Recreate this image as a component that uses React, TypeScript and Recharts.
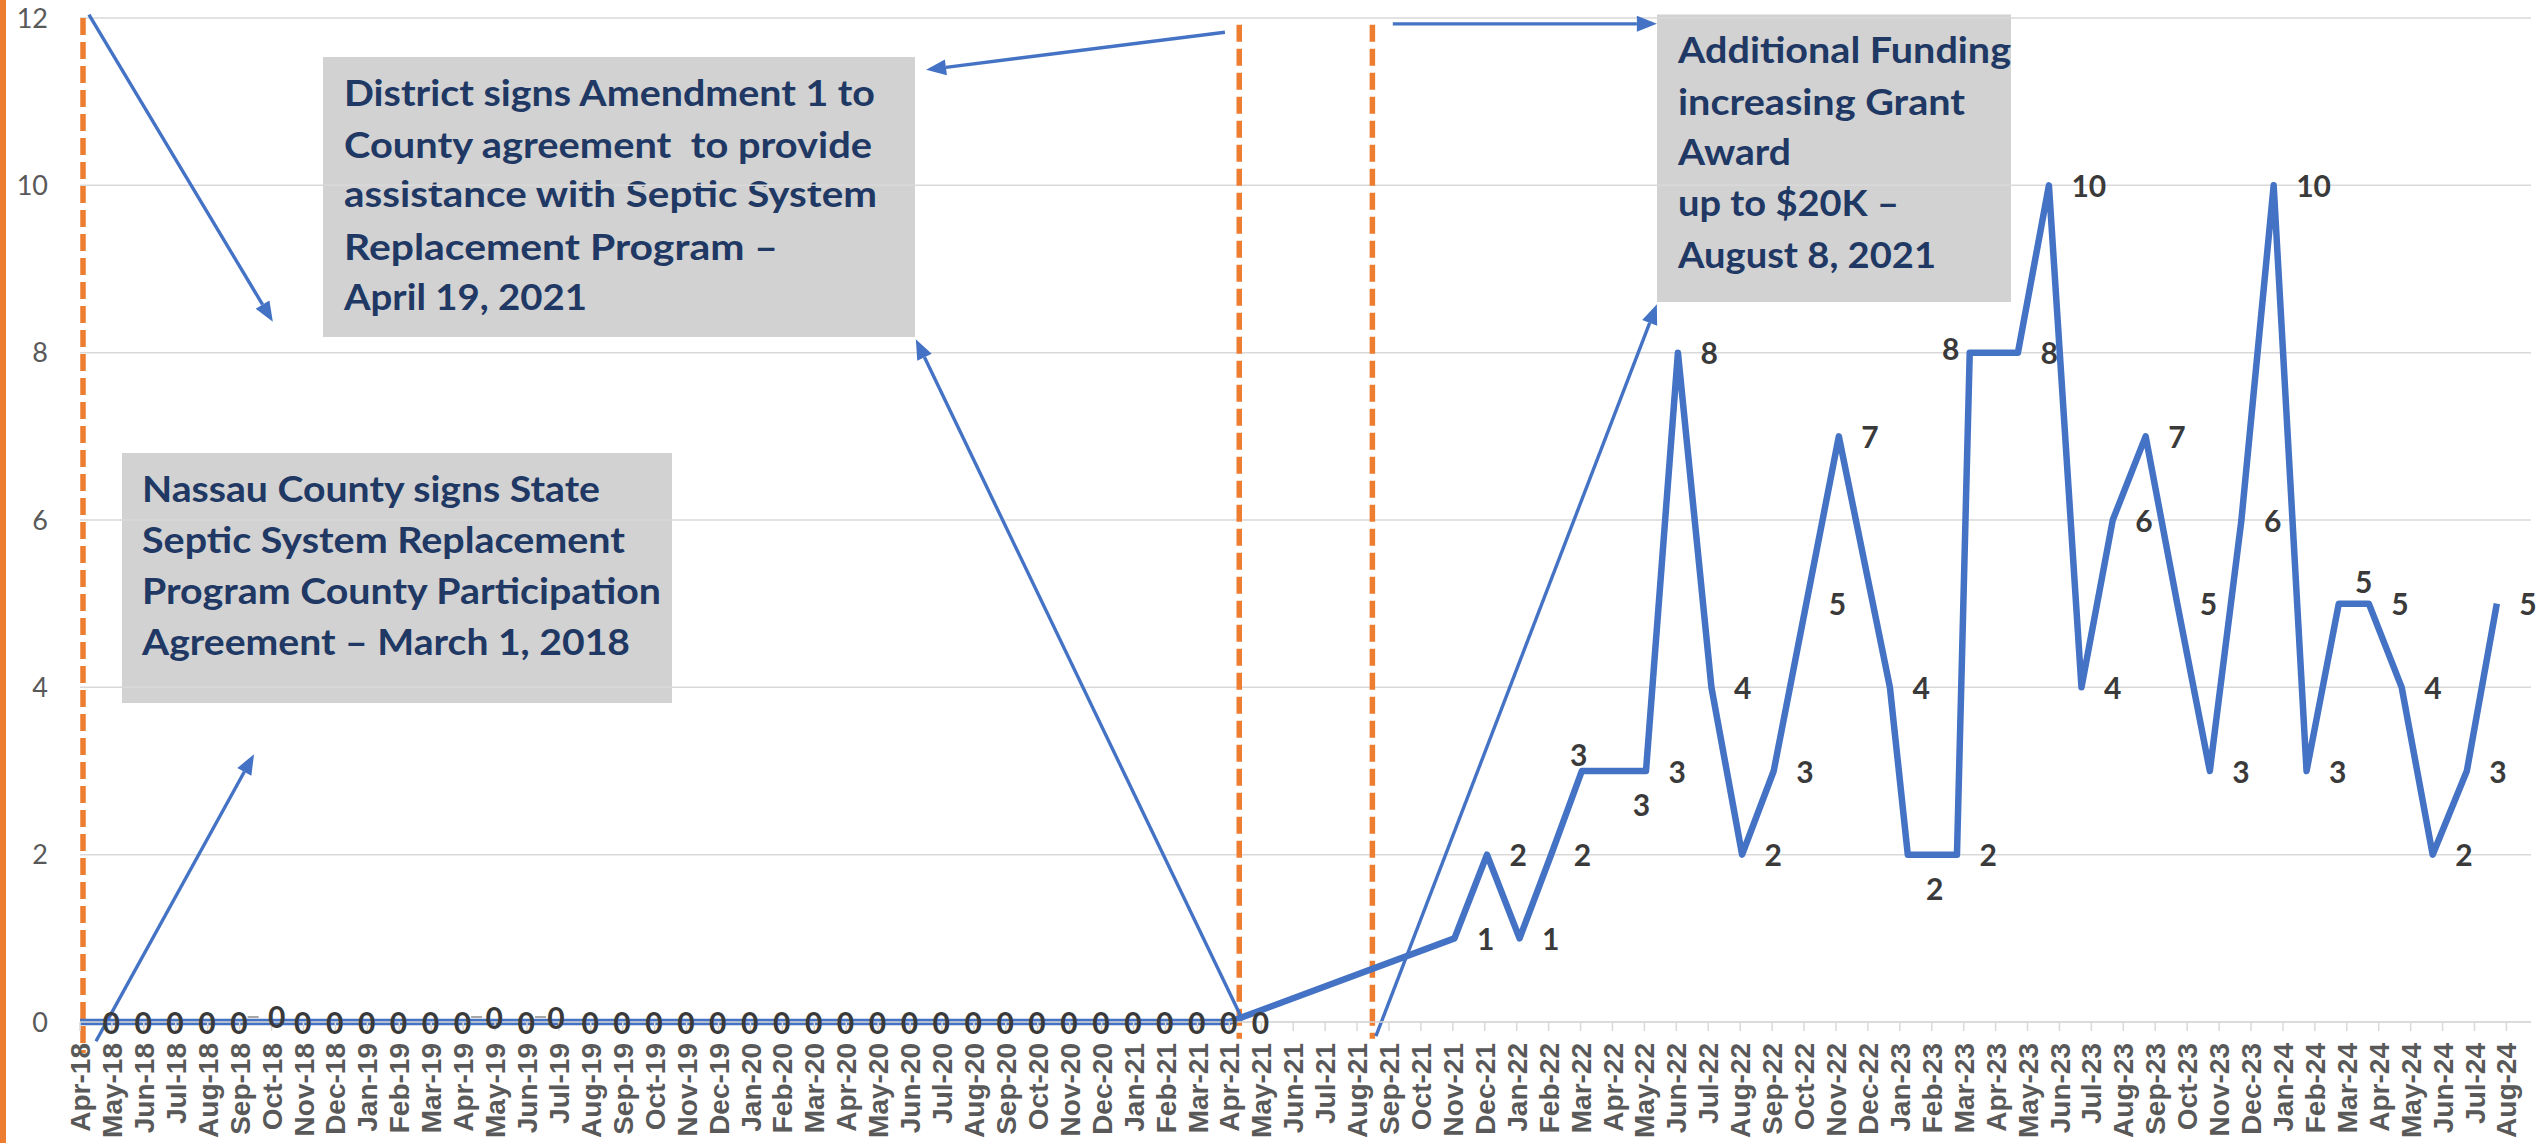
import React from 'react';
import { LineChart, Line, XAxis, YAxis, CartesianGrid, ReferenceLine, LabelList } from 'recharts';

// ---------- data ----------
const monthLabels = [
  'Apr-18', 'May-18', 'Jun-18', 'Jul-18', 'Aug-18', 'Sep-18', 'Oct-18', 'Nov-18', 'Dec-18',
  'Jan-19', 'Feb-19', 'Mar-19', 'Apr-19', 'May-19', 'Jun-19', 'Jul-19', 'Aug-19', 'Sep-19', 'Oct-19', 'Nov-19', 'Dec-19',
  'Jan-20', 'Feb-20', 'Mar-20', 'Apr-20', 'May-20', 'Jun-20', 'Jul-20', 'Aug-20', 'Sep-20', 'Oct-20', 'Nov-20', 'Dec-20',
  'Jan-21', 'Feb-21', 'Mar-21', 'Apr-21', 'May-21', 'Jun-21', 'Jul-21', 'Aug-21', 'Sep-21', 'Oct-21', 'Nov-21', 'Dec-21',
  'Jan-22', 'Feb-22', 'Mar-22', 'Apr-22', 'May-22', 'Jun-22', 'Jul-22', 'Aug-22', 'Sep-22', 'Oct-22', 'Nov-22', 'Dec-22',
  'Jan-23', 'Feb-23', 'Mar-23', 'Apr-23', 'May-23', 'Jun-23', 'Jul-23', 'Aug-23', 'Sep-23', 'Oct-23', 'Nov-23', 'Dec-23',
  'Jan-24', 'Feb-24', 'Mar-24', 'Apr-24', 'May-24', 'Jun-24', 'Jul-24', 'Aug-24',
];

// position of each reading on the month axis (0 = Apr-18)
const pointMonth = [
  0, 1, 2, 3, 4, 5, 6, 7, 8, 9, 10, 11, 12, 13, 14, 15, 16, 17, 18, 19,
  20, 21, 22, 23, 24, 25, 26, 27, 28, 29, 30, 31, 32, 33, 34, 35, 36,
  43.05, 44.07, 45.09, 46.08, 47.04, 48.06, 49.05, 50.05, 51.1, 52.06, 53.05, 54.07, 55.09,
  56.69, 57.25, 58.79, 59.19, 60.7, 61.67, 62.69, 63.67, 64.7, 65.69, 66.71, 67.7, 68.71,
  69.74, 70.75, 71.69, 72.72, 73.69, 74.76, 75.7,
];

const pointCount = [
  0, 0, 0, 0, 0, 0, 0, 0, 0, 0, 0, 0, 0, 0, 0, 0, 0, 0, 0, 0,
  0, 0, 0, 0, 0, 0, 0, 0, 0, 0, 0, 0, 0, 0, 0, 0, 0,
  1, 2, 1, 2, 3, 3, 3, 8, 4, 2, 3, 5, 7,
  4, 2, 2, 8, 8, 10, 4, 6, 7, 5, 3, 6, 10,
  3, 5, 5, 4, 2, 3, 5,
];

const yTicks = [0, 2, 4, 6, 8, 10, 12];

// milestone dates on the month axis: Mar 1 2018, Apr 19 2021, Aug 8 2021
const milestoneMonth = [0.094, 36.31, 40.48];
const milestoneTop = [12, 11.92, 11.92];
const milestoneBottom = [-0.37, -0.2, -0.2];

// annotation connectors (month axis, count axis)
const connectorFrom = [[0.28, 12.04], [0.5, -0.23], [35.86, 11.83], [36.42, 0.02], [41.12, 11.93], [40.59, -0.17]];
const connectorTo = [[6.04, 8.37], [5.45, 3.2], [26.5, 11.38], [26.18, 8.16], [49.39, 11.93], [49.39, 8.58]];

const noteTexts = [
  ['District signs Amendment 1 to', 'County agreement  to provide', 'assistance with Septic System', 'Replacement Program \u2013', 'April 19, 2021'],
  ['Nassau County signs State', 'Septic System Replacement', 'Program County Participation', 'Agreement \u2013 March 1, 2018'],
  ['Additional Funding', 'increasing Grant', 'Award', 'up to $20K \u2013', 'August 8, 2021'],
];

const chartData = pointMonth.map((m, i) => ({ m, count: pointCount[i] }));
const monthTicks = monthLabels.map((_, i) => i);

// ---------- layout / style ----------
const W = 2539;
const H = 1143;
const BLUE = '#4472C4';
const ORANGE = '#ED7D31';
const GRID = '#D9D9D9';
const NAVY = '#1F3864';

const noteBoxes = [
  { x: 323, y: 57, w: 592, h: 280, tx: 344, base: [106, 157.5, 207, 260, 310], len: [531, 528, 533, 434, 243] },
  { x: 122, y: 453, w: 550, h: 250, tx: 142, base: [501.5, 553, 604, 655], len: [458, 483, 519, 488] },
  { x: 1657, y: 14.5, w: 354, h: 287.5, tx: 1678, base: [63, 115, 165, 216, 268], len: [333, 287, 113, 221, 258] },
];

const labelSpecial: Record<number, { dx: number; dy: number; leader?: boolean }> = {
  5: { dx: 37, dy: -5, leader: true },
  12: { dx: 31, dy: -4, leader: true },
  14: { dx: 29, dy: -4, leader: true },
  41: { dx: -3, dy: -16 },
  42: { dx: 27, dy: 34 },
  51: { dx: 27, dy: 35 },
  53: { dx: -19, dy: -3 },
  64: { dx: 25, dy: -21 },
};

const DataLabel = (props: any) => {
  const { x, y, value, index } = props;
  if (x == null || y == null) return null;
  const sp = labelSpecial[index];
  const common = {
    fontFamily: 'Lato, sans-serif',
    fontWeight: 700,
    fontSize: 30,
    fill: '#3A3A3A',
  };
  if (sp) {
    return (
      <g>
        {sp.leader && (
          <line x1={x + 8} y1={y - 5} x2={x + 19} y2={y - 5} stroke="#A6A6A6" strokeWidth={2} />
        )}
        <text x={x + sp.dx} y={y + sp.dy + 10.75} textAnchor="middle" {...common}>
          {value}
        </text>
      </g>
    );
  }
  return (
    <text x={x + 22.5} y={y + 1 + 10.75} textAnchor="start" {...common}>
      {value}
    </text>
  );
};

const MonthTick = (props: any) => {
  const { x, y, payload } = props;
  const label = monthLabels[payload.value];
  return (
    <text
      x={x}
      y={y}
      transform={`rotate(-90, ${x}, ${y})`}
      textAnchor="end"
      dy="0.36em"
      fontFamily="'Liberation Sans', Arial, sans-serif"
      fontWeight={700}
      fontSize={28}
      fill="#595959"
    >
      {label}
    </text>
  );
};

const CountTick = (props: any) => {
  const { x, y, payload } = props;
  return (
    <text x={x} y={y + 9.7} textAnchor="end" fontFamily="Lato, sans-serif" fontSize={27} fill="#595959">
      {payload.value}
    </text>
  );
};

const ArrowShape = (p: any) => {
  const { x1, y1, x2, y2 } = p;
  const dx = x2 - x1;
  const dy = y2 - y1;
  const len = Math.hypot(dx, dy) || 1;
  const ux = dx / len;
  const uy = dy / len;
  const hl = 20;
  const hw = 8;
  const bx = x2 - ux * hl;
  const by = y2 - uy * hl;
  const pts = `${x2},${y2} ${bx - uy * hw},${by + ux * hw} ${bx + uy * hw},${by - ux * hw}`;
  return (
    <g>
      <line x1={x1} y1={y1} x2={bx} y2={by} stroke={BLUE} strokeWidth={3.4} />
      <polygon points={pts} fill={BLUE} />
    </g>
  );
};

const DashShape = (p: any) => {
  const { x1, y1, x2, y2 } = p;
  return <line x1={x1} y1={y1} x2={x2} y2={y2} stroke={ORANGE} strokeWidth={5.5} strokeDasharray="17 7" />;
};

export default function App() {
  return (
    <div style={{ position: 'absolute', left: 0, top: 0, width: W, height: H, background: '#fff', overflow: 'hidden' }}>
      <svg width={W} height={H} style={{ position: 'absolute', left: 0, top: 0 }}>
        <rect x={0} y={0} width={6} height={H} fill={ORANGE} />
        {noteBoxes.map((b, bi) => (
          <g key={bi}>
            <rect x={b.x} y={b.y} width={b.w} height={b.h} fill="#D2D2D2" />
            {noteTexts[bi].map((t, li) => (
              <text
                key={li}
                x={b.tx}
                y={b.base[li]}
                fontFamily="Lato, sans-serif"
                fontWeight={700}
                fontSize={36}
                fill={NAVY}
                textLength={b.len[li]}
                lengthAdjust="spacingAndGlyphs"
                style={{ whiteSpace: 'pre' }}
              >
                {t}
              </text>
            ))}
          </g>
        ))}
      </svg>
      <div style={{ position: 'absolute', left: 0, top: 0 }}>
        <LineChart width={W} height={H} data={chartData} margin={{ top: 18, right: 8, bottom: 0, left: 0 }}>
          <CartesianGrid vertical={false} stroke={GRID} strokeWidth={1.5} />
          <XAxis
            type="number"
            dataKey="m"
            domain={[0, 76.77]}
            ticks={monthTicks}
            interval={0}
            allowDataOverflow
            height={121}
            tickSize={9}
            tickMargin={12}
            axisLine={{ stroke: GRID, strokeWidth: 1.5 }}
            tickLine={{ stroke: GRID, strokeWidth: 1.5 }}
            tick={<MonthTick />}
          />
          <YAxis
            type="number"
            domain={[0, 12]}
            ticks={yTicks}
            width={80}
            axisLine={false}
            tickLine={false}
            tickSize={0}
            tickMargin={32}
            tick={<CountTick />}
          />
          {milestoneMonth.map((mx, i) => (
            <ReferenceLine
              key={`ms${i}`}
              segment={[{ x: mx, y: milestoneTop[i] }, { x: mx, y: milestoneBottom[i] }]}
              ifOverflow="visible"
              shape={DashShape}
            />
          ))}
          {connectorFrom.map((f, i) => (
            <ReferenceLine
              key={`cn${i}`}
              segment={[{ x: f[0], y: f[1] }, { x: connectorTo[i][0], y: connectorTo[i][1] }]}
              ifOverflow="visible"
              shape={ArrowShape}
            />
          ))}
          <Line
            type="linear"
            dataKey="count"
            stroke={BLUE}
            strokeWidth={6.5}
            strokeLinejoin="round"
            dot={false}
            activeDot={false}
            isAnimationActive={false}
          >
            <LabelList dataKey="count" content={<DataLabel />} />
          </Line>
        </LineChart>
      </div>
    </div>
  );
}
